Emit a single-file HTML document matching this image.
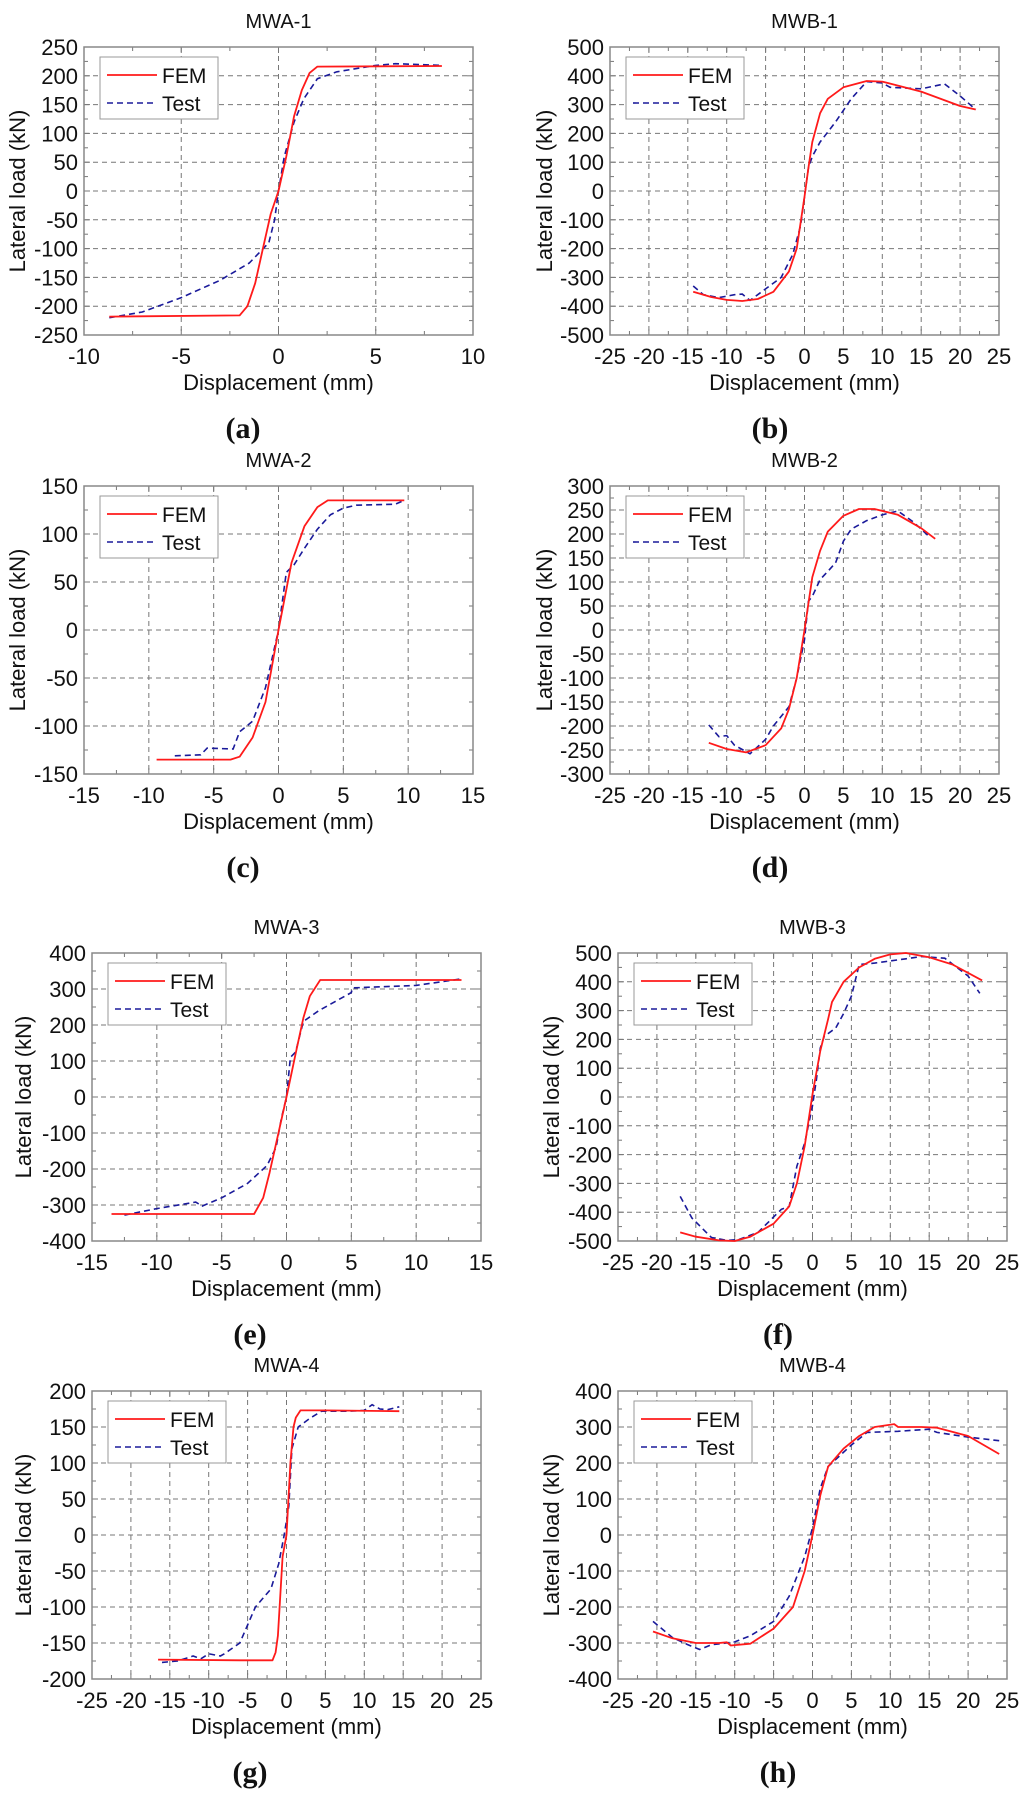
<!DOCTYPE html>
<html><head><meta charset="utf-8"><style>
html,body{margin:0;padding:0;background:#fff;}
svg{display:block;font-family:"Liberation Sans",Arial,sans-serif;}
</style></head><body>
<svg id="fig" width="1024" height="1796" viewBox="0 0 1024 1796" xmlns="http://www.w3.org/2000/svg"></svg>
<script>
// ---- data arrays ----
const titles = ["MWA-1","MWB-1","MWA-2","MWB-2","MWA-3","MWB-3","MWA-4","MWB-4"];
const panelLetters = ["(a)","(b)","(c)","(d)","(e)","(f)","(g)","(h)"];
const xRanges = [[-10,10,5],[-25,25,5],[-15,15,5],[-25,25,5],[-15,15,5],[-25,25,5],[-25,25,5],[-25,25,5]];
const yRanges = [[-250,250,50],[-500,500,100],[-150,150,50],[-300,300,50],[-400,400,100],[-500,500,100],[-200,200,50],[-400,400,100]];
const femA1 = [[-8.7,-218],[-2,-216],[-1.6,-200],[-1.2,-160],[-0.8,-100],[-0.4,-40],[0,0],[0.4,60],[0.8,130],[1.2,175],[1.6,205],[2,216],[8.4,217]];
const testA1 = [[-8.7,-220],[-7,-210],[-5,-185],[-3,-155],[-1.5,-125],[-0.5,-90],[-0.2,-50],[0,0],[0.3,60],[0.8,120],[1.3,160],[2,195],[3,207],[5,218],[6,221],[8.4,218]];
const femB1 = [[-14.3,-350],[-12,-368],[-10,-378],[-8,-382],[-6,-375],[-4,-350],[-2,-280],[-1,-200],[0,-20],[0.5,80],[1,170],[2,270],[3,320],[5,360],[8,382],[10,380],[15,345],[20,295],[22,283]];
const testB1 = [[-14.3,-330],[-13,-360],[-11,-370],[-9,-360],[-8,-358],[-7,-380],[-5,-340],[-3,-300],[-1.5,-220],[-0.5,-120],[0,-20],[0.5,80],[1,120],[2,170],[4,240],[6,320],[8,380],[10,375],[11,360],[15,355],[18,372],[20,330],[22,283]];
const femA2 = [[-9.4,-135],[-3.7,-135],[-3,-132],[-2,-112],[-1,-75],[0,0],[1,70],[2,108],[3,128],[3.8,135],[9.7,135]];
const testA2 = [[-8,-131],[-6,-130],[-5.5,-123],[-3.5,-124],[-3,-106],[-2,-95],[-1,-60],[-0.5,-30],[0,0],[0.6,60],[1.2,68],[2,85],[3,105],[4,120],[5,127],[6,130],[9,131],[9.7,135]];
const femB2 = [[-12.3,-235],[-10,-248],[-7.5,-255],[-5,-240],[-3,-205],[-2,-165],[-1,-100],[0,0],[1,110],[2,165],[3,205],[5,238],[7,252],[9,252],[12,240],[15,212],[16.8,190]];
const testB2 = [[-12.3,-198],[-11,-222],[-10,-220],[-9,-240],[-7,-258],[-5,-228],[-4,-200],[-2,-160],[-1,-100],[0,-20],[0.5,60],[1,70],[2,105],[3,122],[4,140],[5,185],[6,210],[8,228],[10,240],[12,248],[14,225],[16,195]];
const femA3 = [[-13.5,-325],[-2.5,-325],[-1.8,-280],[-1.3,-210],[0,0],[0.7,120],[1.3,220],[1.8,280],[2.6,325],[13.5,325]];
const testA3 = [[-12.5,-328],[-10,-310],[-7,-292],[-6.5,-303],[-5,-280],[-3,-240],[-1.5,-190],[-0.8,-140],[-0.4,-60],[0,0],[0.3,110],[0.7,125],[1.3,210],[2.5,240],[5,290],[5.1,303],[10,310],[13.5,328]];
const femB3 = [[-17,-470],[-15,-485],[-12,-498],[-10,-500],[-8,-485],[-5,-440],[-3,-380],[-2,-300],[-1,-170],[0,10],[1,160],[2,270],[2.5,330],[4,400],[6,450],[8,480],[10,495],[12,500],[15,485],[18,460],[21.8,405]];
const testB3 = [[-17,-345],[-15.5,-420],[-13,-488],[-11,-498],[-9.5,-495],[-7,-470],[-4,-390],[-3,-380],[-2,-240],[-1,-160],[0,-30],[0.5,60],[1,170],[1.5,210],[3,240],[4,290],[5,350],[6,460],[8,465],[12,480],[14,488],[17,482],[20,420],[21.5,360]];
const femA4 = [[-16.5,-173],[-6,-174],[-1.8,-174],[-1.4,-163],[-1.1,-140],[-0.5,-30],[0,0],[0.5,100],[0.9,150],[1.2,163],[1.8,173],[5,173],[14.5,172]];
const testA4 = [[-16,-177],[-14,-175],[-12,-168],[-11,-172],[-10,-165],[-8.5,-168],[-8,-165],[-6,-150],[-5,-125],[-4,-100],[-2,-75],[-1,-40],[-0.3,0],[0.3,40],[0.7,120],[1.5,150],[3,162],[4.5,172],[8,172],[10,173],[11,181],[12,175],[13,174],[14.5,178]];
const femB4 = [[-20.5,-268],[-18,-287],[-15,-300],[-12,-300],[-11,-298],[-10.5,-307],[-8,-302],[-5,-260],[-2.5,-200],[-1,-100],[0,0],[1,110],[2,190],[4,240],[6,275],[8,300],[10.5,308],[11,300],[14,300],[16,298],[20,275],[24,225]];
const testB4 = [[-20.5,-240],[-18,-285],[-16,-305],[-14.5,-318],[-13,-305],[-10,-297],[-8,-280],[-5,-240],[-3,-170],[-1,-60],[0,20],[1,130],[2,190],[3,210],[5,250],[7,285],[11,288],[15,294],[16,285],[20,272],[24,262]];
const femSeries = [femA1,femB1,femA2,femB2,femA3,femB3,femA4,femB4];
const testSeries = [testA1,testB1,testA2,testB2,testA3,testB3,testA4,testB4];

// ---- layout (px) ----
const boxes = [[84,47],[610,47],[84,486],[610,486],[92,953],[618,953],[92,1391],[618,1391]];
const W = 389, H = 288;
const NS = "http://www.w3.org/2000/svg";
const svg = document.getElementById('fig');
function el(tag, attrs, parent){
  const e = document.createElementNS(NS, tag);
  for (const k in attrs) e.setAttribute(k, attrs[k]);
  (parent||svg).appendChild(e); return e;
}
for (let i=0;i<8;i++){
  const [L,T] = boxes[i];
  const [x0,x1,xs] = xRanges[i], [y0,y1,ys] = yRanges[i];
  const sx = v => L + (v-x0)/(x1-x0)*W;
  const sy = v => T + H - (v-y0)/(y1-y0)*H;
  const g = el('g',{});
  
  
  for (let v=x0+xs; v<x1-1e-9; v+=xs){
    const ln = el('line',{x1:sx(v),x2:sx(v),y1:T,y2:T+H,stroke:'#777','stroke-width':1,'stroke-dasharray':'5,4'},g);
    
    
  }
  for (let v=y0+ys; v<y1-1e-9; v+=ys){
    const ln = el('line',{x1:L,x2:L+W,y1:sy(v),y2:sy(v),stroke:'#777','stroke-width':1,'stroke-dasharray':'5,4'},g);
    
    
  }
  for (let v=x0; v<=x1+1e-9; v+=xs/2){
    const major = Math.abs(((v-x0)/xs) - Math.round((v-x0)/xs))<1e-6;
    const len = major?6:4;
    el('line',{x1:sx(v),x2:sx(v),y1:T+H,y2:T+H-len,stroke:'#777','stroke-width':1},g);
    el('line',{x1:sx(v),x2:sx(v),y1:T,y2:T+len,stroke:'#777','stroke-width':1},g);
    if (major){
      const t = el('text',{x:sx(v),y:T+H+29,'text-anchor':'middle','font-size':22,fill:'#111'},g);
      t.textContent = String(Math.round(v));
      
      
    }
  }
  for (let v=y0; v<=y1+1e-9; v+=ys/2){
    const major = Math.abs(((v-y0)/ys) - Math.round((v-y0)/ys))<1e-6;
    const len = major?6:4;
    el('line',{x1:L,x2:L+len,y1:sy(v),y2:sy(v),stroke:'#777','stroke-width':1},g);
    el('line',{x1:L+W,x2:L+W-len,y1:sy(v),y2:sy(v),stroke:'#777','stroke-width':1},g);
    if (major){
      const t = el('text',{x:L-6,y:sy(v)+8,'text-anchor':'end','font-size':22,fill:'#111'},g);
      t.textContent = String(Math.round(v));
      
      
    }
  }
  const fr = el('rect',{x:L,y:T,width:W,height:H,fill:'none',stroke:'#888','stroke-width':1.5},g);
  
  
  const pts = a => a.map(p=>sx(p[0]).toFixed(1)+','+sy(p[1]).toFixed(1)).join(' ');
  const tl = el('polyline',{points:pts(testSeries[i]),fill:'none',stroke:'#1a1a9a','stroke-width':1.6,'stroke-dasharray':'6,4'},g);
  
  
  const fl = el('polyline',{points:pts(femSeries[i]),fill:'none',stroke:'#ff1a1a','stroke-width':1.8,'stroke-linejoin':'round'},g);
  
  
  const lg = el('g',{},g);
  
  
  el('rect',{x:L+16,y:T+10,width:118,height:62,fill:'#fff',stroke:'#999','stroke-width':1},lg);
  el('line',{x1:L+23,x2:L+73,y1:T+28,y2:T+28,stroke:'#ff1a1a','stroke-width':1.8},lg);
  const f = el('text',{x:L+78,y:T+36,'font-size':21,fill:'#111'},lg);
  f.textContent = 'FEM';
  
  
  el('line',{x1:L+23,x2:L+73,y1:T+56,y2:T+56,stroke:'#1a1a9a','stroke-width':1.6,'stroke-dasharray':'6,4'},lg);
  const te = el('text',{x:L+78,y:T+64,'font-size':21,fill:'#111'},lg);
  te.textContent = 'Test';
  
  
  const ti = el('text',{x:L+W/2,y:T-19,'text-anchor':'middle','font-size':20,fill:'#111'},g);
  ti.textContent = titles[i];
  
  
  const xl = el('text',{x:L+W/2,y:T+H+55,'text-anchor':'middle','font-size':22,fill:'#111'},g);
  xl.textContent = 'Displacement (mm)';
  
  
  const ylx = (i%2===0 ? (i<4?17:23) : (i<4?544:551)) + 8;
  const yl = el('text',{x:ylx,y:T+H/2,'text-anchor':'middle','font-size':22,fill:'#111',transform:`rotate(-90 ${ylx} ${T+H/2})`},g);
  yl.textContent = 'Lateral load (kN)';
  
  
  const pl = el('text',{x:(i%2===0?(i<4?243:250):(i<4?770:778)),y:T+H+103,'text-anchor':'middle','font-size':30,'font-weight':'bold','font-family':'"Liberation Serif",serif',fill:'#111'},g);
  pl.textContent = panelLetters[i];
  
  
}
</script>
</body></html>
